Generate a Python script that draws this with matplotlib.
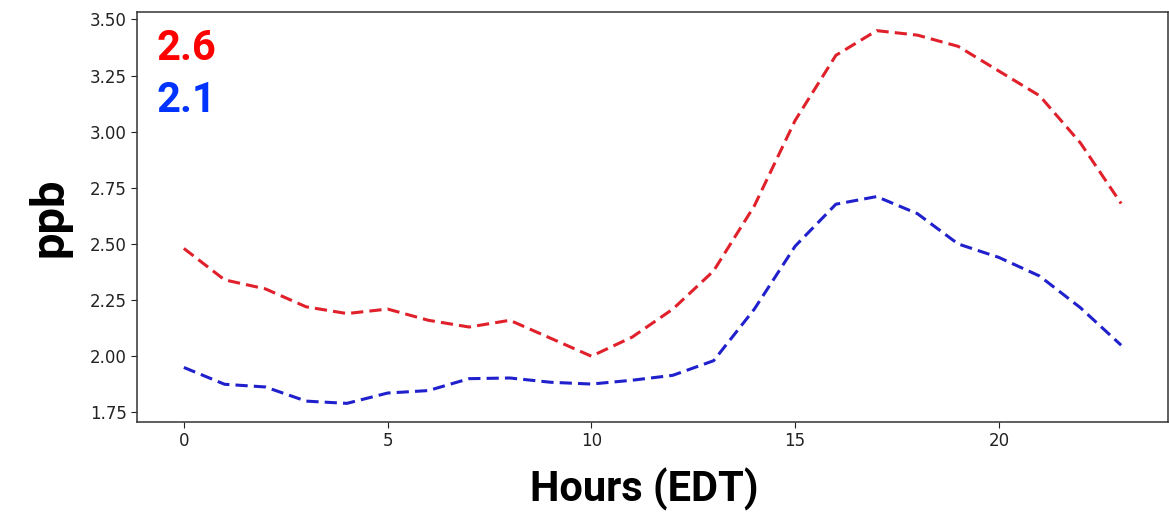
import numpy as np
import matplotlib
matplotlib.use("Agg")
import matplotlib.pyplot as plt

hours = np.arange(24)

# two hourly profiles (ppb)
red_vals = [2.48, 2.34, 2.30, 2.22, 2.19, 2.21, 2.16, 2.13, 2.16, 2.08, 2.00, 2.085,
            2.21, 2.38, 2.67, 3.05, 3.34, 3.45, 3.43, 3.38, 3.27, 3.16, 2.95, 2.68]
blue_vals = [1.95, 1.875, 1.863, 1.80, 1.79, 1.836, 1.847, 1.90, 1.903, 1.884, 1.876, 1.893,
             1.915, 1.98, 2.21, 2.49, 2.677, 2.711, 2.635, 2.50, 2.44, 2.357, 2.216, 2.049]

red_mean = "2.6"
blue_mean = "2.1"

xticks = [0, 5, 10, 15, 20]
yticks = [1.75, 2.00, 2.25, 2.50, 2.75, 3.00, 3.25, 3.50]

W, H = 1169, 512
fig = plt.figure(figsize=(W / 100, H / 100), dpi=100)
ax = fig.add_axes([137 / W, 90 / H, 1031 / W, 410 / H])

ax.plot(hours, red_vals, ls="--", color="#e0202a", lw=2.2, dashes=(4, 2))
ax.plot(hours, blue_vals, ls="--", color="#2020cc", lw=2.2, dashes=(4, 2))

ax.set_xticks(xticks)
ax.set_yticks(yticks)
ax.set_yticklabels(["%.2f" % v for v in yticks])
ax.tick_params(labelsize=12, colors="#222222", length=4)
for s in ax.spines.values():
    s.set_linewidth(1.1)
    s.set_color("#333333")

ax.text(0.019, 0.912, red_mean, transform=ax.transAxes, color="#ff0000",
        fontsize=30, fontweight="bold", family="Roboto", ha="left", va="center")
ax.text(0.019, 0.785, blue_mean, transform=ax.transAxes, color="#0033ff",
        fontsize=30, fontweight="bold", family="Roboto", ha="left", va="center")

fig.text(50 / W, 1 - 217 / H, "ppb", rotation=90, fontsize=34, fontweight="bold",
         family="Roboto", ha="center", va="center")
fig.text(644.5 / W, 1 - 489 / H, "Hours (EDT)", fontsize=30, fontweight="bold",
         family="Roboto", ha="center", va="center")

fig.savefig("out.png", dpi=100)
